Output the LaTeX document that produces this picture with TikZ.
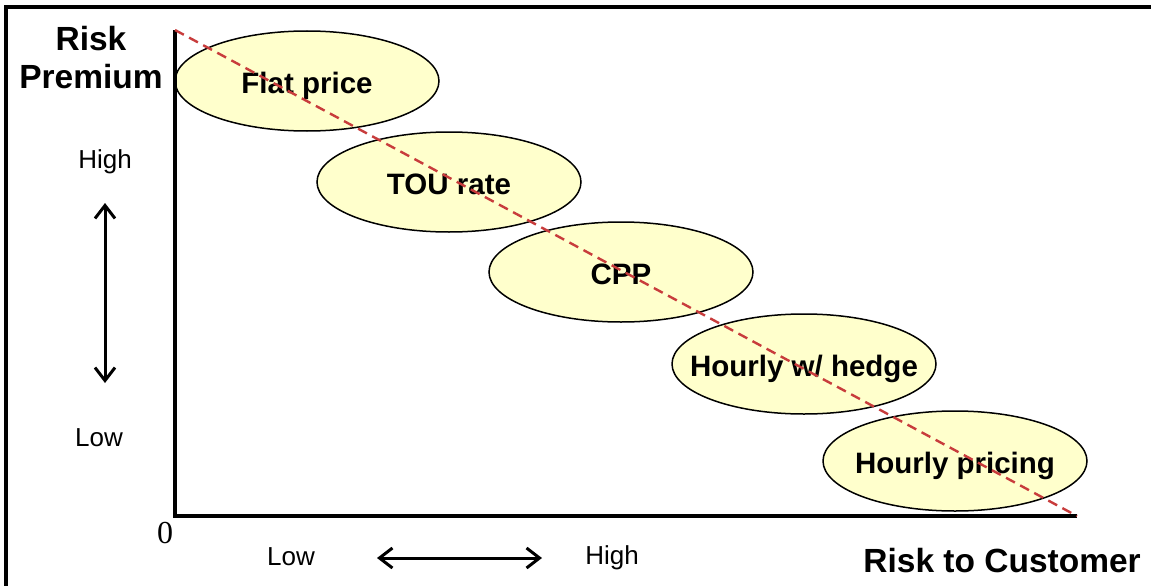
\documentclass[tikz,border=0pt]{standalone}
\usepackage{fontspec}
\setmainfont{Liberation Sans}
\newfontfamily\serifzero{Liberation Serif}
\usetikzlibrary{shapes.geometric,arrows.meta}
\definecolor{ellfill}{RGB}{255,255,204}
\definecolor{dashred}{RGB}{200,60,60}
\newcommand{\zw}[1]{\raisebox{-12.5pt}[0pt][0pt]{\makebox[0pt]{#1}}}
\tikzset{
  pricebox/.style={ellipse, draw=black, line width=1.5pt, fill=ellfill,
    minimum width=264pt, minimum height=100pt, inner sep=0pt,
    font=\fontsize{29.5}{34}\selectfont\bfseries},
  axisline/.style={line width=3.2pt},
  bigtitle/.style={font=\fontsize{33.5}{40}\selectfont\bfseries, align=center, inner sep=0pt},
  smalllabel/.style={font=\fontsize{26}{30}\selectfont, inner sep=0pt},
  dblarrow/.style={line width=3pt, {Straight Barb[length=13pt,width=20pt,line width=3pt]}-{Straight Barb[length=13pt,width=20pt,line width=3pt]}}
}
\begin{document}
\begin{tikzpicture}[x=1pt,y=-1pt]
\useasboundingbox (0,0) rectangle (1151,586);
\fill[white] (0,0) rectangle (1151,586);
% frame
\draw[line width=4pt] (6,600) -- (6,7) -- (1160,7);
% ellipses
\node[pricebox] (flat) at (307,81) {\zw{Flat price}};
\node[pricebox] (tou) at (449,182) {\zw{TOU rate}};
\node[pricebox] (cpp) at (621,272) {\zw{CPP}};
\node[pricebox] (hedge) at (804,364) {\zw{Hourly w/ hedge}};
\node[pricebox] (hourly) at (955,461) {\zw{Hourly pricing}};
% axes
\coordinate (top) at (175,30);
\coordinate (origin) at (175,516);
\coordinate (xend) at (1077,516);
\draw[axisline] (top) -- (origin) -- (xend);
% dashed diagonal
\coordinate (dend) at (1077,516);
\draw[dashred, line width=2.4pt, dash pattern=on 10pt off 6pt] (top) -- (dend);
% titles
\node[bigtitle] (ytitle) at (91,58) {Risk\\[-2pt]Premium};
\node[bigtitle, anchor=base east] (xtitle) at (1141,572) {Risk to Customer};
% vertical scale
\node[smalllabel] (yhigh) at (105,162) {High};
\node[smalllabel] (ylow) at (99,438) {Low};
\coordinate (va) at (105,203);
\coordinate (vb) at (105,383);
\draw[dblarrow] (va) -- (vb);
% origin label
\node[font=\fontsize{32}{36}\selectfont\serifzero, inner sep=0pt] (zero) at (165,533) {0};
% horizontal scale
\node[smalllabel] (xlow) at (291,557) {Low};
\node[smalllabel] (xhigh) at (612,558) {High};
\coordinate (ha) at (377,558);
\coordinate (hb) at (542,558);
\draw[dblarrow] (ha) -- (hb);
\end{tikzpicture}
\end{document}
